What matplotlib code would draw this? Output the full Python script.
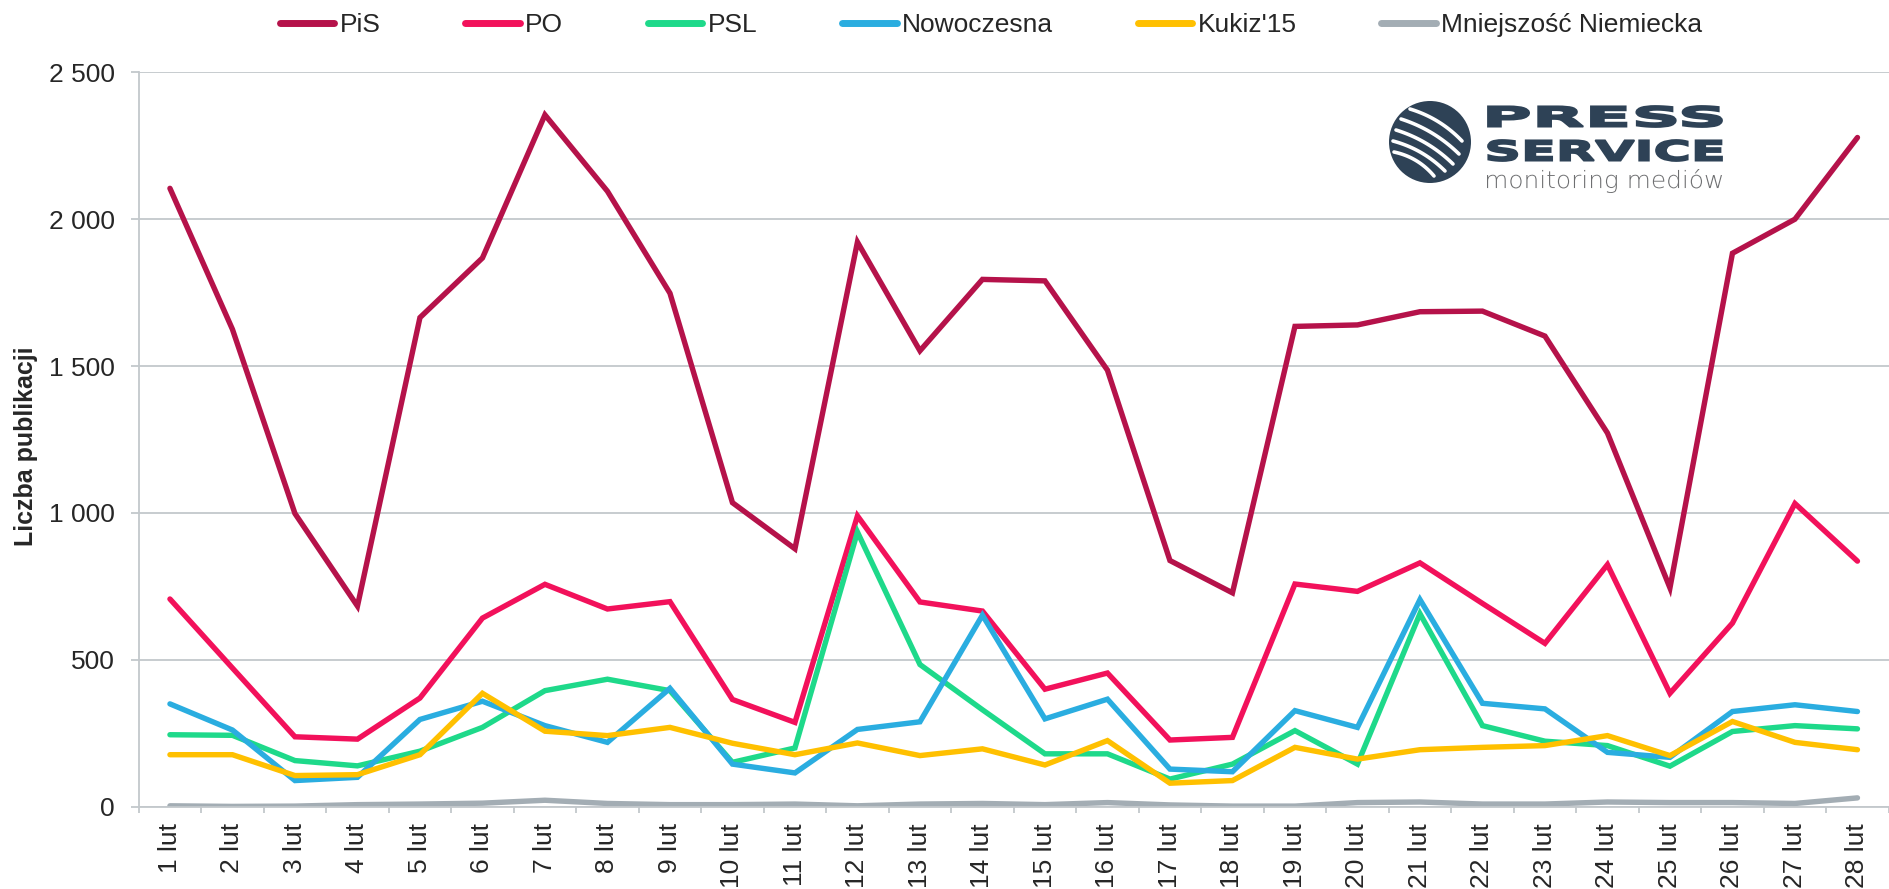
import numpy as np
import matplotlib
matplotlib.use("Agg")
import matplotlib.pyplot as plt
from matplotlib.lines import Line2D
from matplotlib.patches import Ellipse, PathPatch
from matplotlib.textpath import TextPath
from matplotlib.font_manager import FontProperties
from matplotlib.transforms import Affine2D

W, H = 1890, 889

days = [f"{d} lut" for d in range(1, 29)]

pis = [2105, 1625, 998, 683, 1665, 1868, 2355, 2095, 1748, 1035, 878, 1922,
       1552, 1795, 1790, 1486, 838, 728, 1635, 1640, 1685, 1687, 1602, 1272,
       745, 1884, 2000, 2278]
po = [707, 472, 238, 230, 370, 642, 757, 673, 698, 365, 287, 990,
      697, 666, 400, 455, 227, 236, 758, 733, 830, 692, 556, 824,
      386, 625, 1032, 836]
psl = [245, 243, 157, 139, 189, 270, 395, 434, 395, 151, 200, 935,
       484, 330, 180, 180, 94, 145, 259, 145, 657, 276, 223, 208,
       138, 256, 276, 265]
nowoczesna = [350, 261, 89, 100, 297, 359, 276, 219, 403, 145, 115, 263,
              289, 652, 299, 366, 128, 119, 327, 270, 705, 352, 333, 185,
              168, 324, 347, 324]
kukiz = [177, 177, 106, 109, 177, 386, 257, 242, 270, 216, 177, 217,
         174, 197, 142, 225, 80, 89, 202, 162, 194, 202, 208, 242,
         174, 290, 219, 194]
mn = [3, 1, 2, 7, 9, 12, 22, 11, 7, 7, 9, 3,
      9, 11, 7, 14, 6, 2, 2, 14, 16, 9, 9, 16,
      14, 14, 11, 30]

names = ["PiS", "PO", "PSL", "Nowoczesna", "Kukiz'15", "Mniejszość Niemiecka"]
colors = ["#B5124A", "#F2115B", "#1ED98A", "#2AADE0", "#FFC000", "#A3ADB4"]
values = [pis, po, psl, nowoczesna, kukiz, mn]

grid_col = "#C3C8CC"
text_col = "#262626"
plt.rcParams['font.family'] = ['Liberation Sans', 'DejaVu Sans']

fig = plt.figure(figsize=(W / 100, H / 100), dpi=100)
ax = fig.add_axes([138.7 / W, 82.3 / H, 1750 / W, 734.4 / H])

x = np.arange(1, 29)
for name, vals, col in zip(names, values, colors):
    ax.plot(x, vals, color=col, lw=3.9, label=name,
            solid_capstyle='round', solid_joinstyle='miter')

ax.set_xlim(0.5, 28.5)
ax.set_ylim(0, 2500)
yt = np.arange(0, 2501, 500)
ax.set_yticks(yt)
ax.set_yticklabels([f"{v:,}".replace(",", " ") for v in yt])
ax.set_xticks(x)
ax.set_xticklabels(days, rotation=90)
ax.set_xticks(np.arange(0.5, 28.6, 1), minor=True)

ax.yaxis.grid(True, color=grid_col, lw=1.3)
ax.set_axisbelow(True)
for s in ["top", "right"]:
    ax.spines[s].set_visible(False)
for s in ["left", "bottom"]:
    ax.spines[s].set_color(grid_col)
    ax.spines[s].set_linewidth(1.3)

ax.tick_params(axis='y', length=5.5, width=1.3, color=grid_col, pad=11.5,
               labelsize=19, labelcolor=text_col)
ax.tick_params(axis='x', which='major', length=0, pad=12,
               labelsize=19, labelcolor=text_col)
ax.tick_params(axis='x', which='minor', length=4.3, width=1.3, color=grid_col)

fig.text(26.5 / W, 1 - 446 / H, "Liczba publikacji", rotation=90,
         fontsize=18, fontweight='bold', color=text_col, ha='center', va='center')

leg = fig.legend(loc='center', bbox_to_anchor=(991 / W, 1 - 25 / H), ncol=6,
                 frameon=False, fontsize=19, handlelength=2.08,
                 handletextpad=0.2, columnspacing=3.2, borderpad=0)
for t in leg.get_texts():
    t.set_color(text_col)
for h in leg.get_lines():
    h.set_linewidth(5)
    h.set_solid_capstyle('round')


# logo
def px(xp, yp):
    return np.asarray(xp) / W, 1 - np.asarray(yp) / H


def boxed_text(s, x0, y0, x1, y1, color, prop, edge=0):
    tp = TextPath((0, 0), s, size=100, prop=prop)
    bb = tp.get_extents()
    tr = (Affine2D().translate(-bb.x0, -bb.y0)
          .scale((x1 - x0) / bb.width, (y1 - y0) / bb.height)
          .translate(x0, H - y1).scale(1 / W, 1 / H) + fig.transFigure)
    fig.add_artist(PathPatch(tp, transform=tr, facecolor=color,
                             edgecolor=color, lw=edge))


navy = "#2E4256"
cx, cy, r = 1430, 142, 41
fig.add_artist(Ellipse(px(cx, cy), 2 * r / W, 2 * r / H,
                       transform=fig.transFigure, color=navy, lw=0))
stripes = [((1410, 109), (1462, 141)), ((1401, 119), (1459, 154)),
           ((1396, 130), (1453, 164)), ((1393, 141), (1445, 171)),
           ((1394, 152), (1434, 176))]
for (ax0, ay0), (ax1, ay1) in stripes:
    t = np.linspace(0, 1, 30)
    mx, my = (ax0 + ax1) / 2, (ay0 + ay1) / 2
    dx, dy = ax1 - ax0, ay1 - ay0
    ln = np.hypot(dx, dy)
    ctrl = (mx + dy / ln * 8, my - dx / ln * 8)
    xs = (1 - t) ** 2 * ax0 + 2 * (1 - t) * t * ctrl[0] + t ** 2 * ax1
    ys = (1 - t) ** 2 * ay0 + 2 * (1 - t) * t * ctrl[1] + t ** 2 * ay1
    fx, fy = px(xs, ys)
    fig.add_artist(Line2D(fx, fy, transform=fig.transFigure, color='white',
                          lw=2.6, solid_capstyle='round'))

bold = FontProperties(family='DejaVu Sans', weight='bold')
thin = FontProperties(family='DejaVu Sans', weight='light')
boxed_text("PRESS", 1488, 106, 1722, 127, navy, bold, edge=1.3)
boxed_text("SERVICE", 1488, 140, 1722, 161, navy, bold, edge=1.3)
boxed_text("monitoring mediów", 1487, 169, 1722, 193, "#6E6F71", thin)

fig.savefig("out.png", dpi=100)
